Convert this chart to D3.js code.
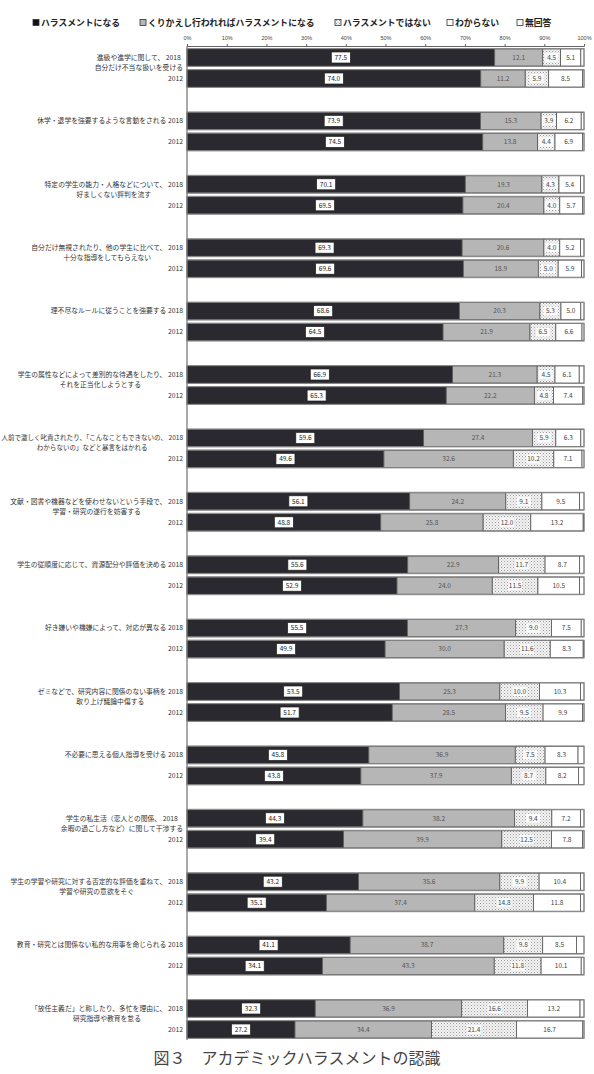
<!DOCTYPE html>
<html>
<head>
<meta charset="utf-8">
<script src="https://cdn.jsdelivr.net/npm/d3@7"></script>
<style>
  body { margin: 0; background: #fff; }
  svg { display: block; font-family: "Noto Sans CJK JP", "Noto Sans", sans-serif; }
</style>
</head>
<body>
<svg id="chart" width="594" height="1074"></svg>
<script>
// category labels (line 1, line 2)
const categories = [
    ["進級や進学に関して、", "自分だけ不当な扱いを受ける"],
    ["休学・退学を強要するような言動をされる", ""],
    ["特定の学生の能力・人格などについて、", "好ましくない評判を流す"],
    ["自分だけ無視されたり、他の学生に比べて、", "十分な指導をしてもらえない"],
    ["理不尽なルールに従うことを強要する", ""],
    ["学生の属性などによって差別的な待遇をしたり、", "それを正当化しようとする"],
    ["人前で激しく叱責されたり、「こんなこともできないの、", "わからないの」などと暴言をはかれる"],
    ["文献・図書や機器などを使わせないという手段で、", "学習・研究の遂行を妨害する"],
    ["学生の従順度に応じて、資源配分や評価を決める", ""],
    ["好き嫌いや機嫌によって、対応が異なる", ""],
    ["ゼミなどで、研究内容に関係のない事柄を", "取り上げ議論中傷する"],
    ["不必要に思える個人指導を受ける", ""],
    ["学生の私生活（恋人との関係、", "余暇の過ごし方など）に関して干渉する"],
    ["学生の学習や研究に対する否定的な評価を重ねて、", "学習や研究の意欲をそぐ"],
    ["教育・研究とは関係ない私的な用事を命じられる", ""],
    ["「放任主義だ」と称したり、多忙を理由に、", "研究指導や教育を怠る"]
];

const years = ["2018", "2012"];

const seriesNames = ["ハラスメントになる", "くりかえし行われればハラスメントになる", "ハラスメントではない", "わからない", "無回答"];

// ハラスメントになる
const naru2018 = [77.5, 73.9, 70.1, 69.3, 68.6, 66.9, 59.6, 56.1, 55.6, 55.5, 53.5, 45.8, 44.3, 43.2, 41.1, 32.3];
const naru2012 = [74.0, 74.5, 69.5, 69.6, 64.5, 65.3, 49.6, 48.8, 52.9, 49.9, 51.7, 43.8, 39.4, 35.1, 34.1, 27.2];
// くりかえし行われればハラスメントになる
const kurikaeshi2018 = [12.1, 15.3, 19.3, 20.6, 20.3, 21.3, 27.4, 24.2, 22.9, 27.3, 25.3, 36.9, 38.2, 35.6, 38.7, 36.9];
const kurikaeshi2012 = [11.2, 13.8, 20.4, 18.9, 21.9, 22.2, 32.6, 25.8, 24.0, 30.0, 28.5, 37.9, 39.9, 37.4, 43.3, 34.4];
// ハラスメントではない
const dewanai2018 = [4.5, 3.9, 4.3, 4.0, 5.3, 4.5, 5.9, 9.1, 11.7, 9.0, 10.0, 7.5, 9.4, 9.9, 9.8, 16.6];
const dewanai2012 = [5.9, 4.4, 4.0, 5.0, 6.5, 4.8, 10.2, 12.0, 11.5, 11.6, 9.5, 8.7, 12.5, 14.8, 11.8, 21.4];
// わからない
const wakaranai2018 = [5.1, 6.2, 5.4, 5.2, 5.0, 6.1, 6.3, 9.5, 8.7, 7.5, 10.3, 8.3, 7.2, 10.4, 8.5, 13.2];
const wakaranai2012 = [8.5, 6.9, 5.7, 5.9, 6.6, 7.4, 7.1, 13.2, 10.5, 8.3, 9.9, 8.2, 7.8, 11.8, 10.1, 16.7];
// 無回答
const mukaitou2018 = [0.8, 0.7, 0.9, 0.9, 0.8, 1.2, 0.8, 1.1, 1.1, 0.7, 0.9, 1.5, 0.9, 0.9, 1.9, 1.0];
const mukaitou2012 = [0.4, 0.4, 0.4, 0.6, 0.5, 0.3, 0.5, 0.2, 1.1, 0.2, 0.4, 1.4, 0.4, 0.9, 0.7, 0.3];

const tickValues = [0, 10, 20, 30, 40, 50, 60, 70, 80, 90, 100];

const byYear = {
    "2018": [naru2018, kurikaeshi2018, dewanai2018, wakaranai2018, mukaitou2018],
    "2012": [naru2012, kurikaeshi2012, dewanai2012, wakaranai2012, mukaitou2012]
};

const fills = ["#29292f", "#b6b6b6", "url(#dots)", "#ffffff", "#ffffff"];

const svg = d3.select('#chart');

const defs = svg.append('defs');
const pat = defs.append('pattern')
    .attr('id', 'dots')
    .attr('width', 3)
    .attr('height', 3)
    .attr('patternUnits', 'userSpaceOnUse');
pat.append('rect').attr('width', 3).attr('height', 3).attr('fill', '#f4f4f4');
pat.append('rect').attr('x', 0).attr('y', 0).attr('width', 1).attr('height', 1).attr('fill', '#9a9a9a');
pat.append('rect').attr('x', 1.5).attr('y', 1.5).attr('width', 1).attr('height', 1).attr('fill', '#bbbbbb');

const x = d3.scaleLinear().domain([0, 100]).range([187, 584]);
const groupY = d3.scaleLinear().domain([0, categories.length - 1]).range([49, 1000]);
const barH = 17;
const yearOffset = d3.scaleOrdinal().domain(years).range([0, 21]);

// legend
const legendX = [33, 140, 335, 447, 517];
const legend = svg.append('g').attr('transform', 'translate(0, 23)');
seriesNames.forEach((name, i) => {
    legend.append('rect')
        .attr('x', legendX[i])
        .attr('y', -3.5)
        .attr('width', 6)
        .attr('height', 6)
        .attr('fill', i === 0 ? '#111' : fills[i])
        .attr('stroke', '#333')
        .attr('stroke-width', 0.8);
    legend.append('text')
        .attr('x', legendX[i] + 8)
        .attr('y', 0)
        .attr('dy', '0.35em')
        .attr('font-size', '8.8px')
        .attr('font-weight', 'bold')
        .attr('fill', '#222')
        .text(name);
});

// top axis
const axis = svg.append('g')
    .attr('transform', 'translate(0, 46)')
    .call(d3.axisTop(x).tickValues(tickValues).tickSize(2).tickFormat(d => d + '%'));
axis.select('.domain').attr('stroke', '#666');
axis.selectAll('.tick line').attr('stroke', '#666');
axis.selectAll('.tick text')
    .attr('font-size', '5.5px')
    .attr('fill', '#444')
    .attr('y', -6);

// vertical baseline
svg.append('line')
    .attr('x1', x(0)).attr('x2', x(0))
    .attr('y1', 46).attr('y2', groupY(categories.length - 1) + yearOffset('2012') + barH + 2)
    .attr('stroke', '#555')
    .attr('stroke-width', 1);

// bars
categories.forEach((cat, ci) => {
    years.forEach(yr => {
        const vals = byYear[yr].map(arr => arr[ci]);
        const top = groupY(ci) + yearOffset(yr);
        const row = svg.append('g');
        let acc = 0;
        const segs = vals.map((v, si) => {
            const s = { si, v, x0: acc, x1: acc + v };
            acc += v;
            return s;
        });

        row.selectAll('rect.seg')
            .data(segs)
            .enter()
            .append('rect')
            .attr('class', 'seg')
            .attr('x', d => x(d.x0))
            .attr('y', top)
            .attr('width', d => x(d.x1) - x(d.x0))
            .attr('height', barH)
            .attr('fill', d => fills[d.si])
            .attr('stroke', '#555')
            .attr('stroke-width', 0.8);

        // outer frame
        row.append('rect')
            .attr('x', x(0))
            .attr('y', top - 0.5)
            .attr('width', x(acc) - x(0))
            .attr('height', barH + 1)
            .attr('fill', 'none')
            .attr('stroke', '#8a8a8a')
            .attr('stroke-width', 1);

        // value labels
        segs.filter(d => d.si < 4).forEach(d => {
            const cx = (x(d.x0) + x(d.x1)) / 2;
            const cy = top + barH / 2;
            const label = d.v.toFixed(1);
            if (d.si === 0) {
                row.append('rect')
                    .attr('x', cx - 9.5)
                    .attr('y', cy - 5.5)
                    .attr('width', 19)
                    .attr('height', 11)
                    .attr('fill', '#fff')
                    .attr('stroke', '#222')
                    .attr('stroke-width', 0.7);
            } else if (d.si === 2) {
                row.append('rect')
                    .attr('x', cx - 7)
                    .attr('y', cy - 4.5)
                    .attr('width', 14)
                    .attr('height', 9)
                    .attr('fill', '#fff')
                    .attr('opacity', 0.85);
            }
            row.append('text')
                .attr('x', cx)
                .attr('y', cy)
                .attr('dy', '0.36em')
                .attr('text-anchor', 'middle')
                .attr('font-size', '6.5px')
                .attr('fill', d.si === 0 ? '#222' : (d.si === 1 ? '#555' : '#444'))
                .text(label);
        });

        // row labels
        const labelRight = 183;
        const cy = top + barH / 2;
        if (yr === '2018') {
            const lines = cat[1] ? [cat[0] + ' ' + yr, cat[1]] : [cat[0] + ' ' + yr];
            const texts = lines.map((ln, li) => row.append('text')
                .attr('y', cy + li * 10)
                .attr('dy', '0.35em')
                .attr('font-size', '6.8px')
                .attr('fill', '#333')
                .text(ln));
            let widths = texts.map(t => t.node().getComputedTextLength());
            let blockW = d3.max(widths);
            // keep long labels inside the left edge
            if (blockW > labelRight - 1) {
                const fs = 6.8 * (labelRight - 1) / blockW;
                texts.forEach(t => t.attr('font-size', fs + 'px'));
                widths = texts.map(t => t.node().getComputedTextLength());
                blockW = d3.max(widths);
            }
            const center = labelRight - blockW / 2;
            texts.forEach(t => t.attr('x', center).attr('text-anchor', 'middle'));
        } else {
            row.append('text')
                .attr('x', labelRight)
                .attr('y', cy)
                .attr('dy', '0.35em')
                .attr('text-anchor', 'end')
                .attr('font-size', '6.8px')
                .attr('fill', '#333')
                .text(yr);
        }
    });
});

// caption
svg.append('text')
    .attr('x', 297)
    .attr('y', 1058)
    .attr('dy', '0.35em')
    .attr('text-anchor', 'middle')
    .attr('font-size', '16px')
    .attr('fill', '#444')
    .text('図３　アカデミックハラスメントの認識');
</script>
</body>
</html>
